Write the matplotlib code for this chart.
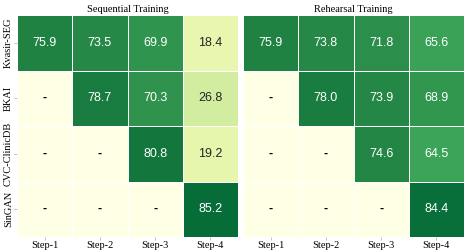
import numpy as np
import matplotlib
matplotlib.use("Agg")
import matplotlib.pyplot as plt
import seaborn as sns

datasets = ["Kvasir-SEG", "BKAI", "CVC-ClinicDB", "SinGAN"]
steps = ["Step-1", "Step-2", "Step-3", "Step-4"]
sequential = [[75.9, 73.5, 69.9, 18.4],
              [0, 78.7, 70.3, 26.8],
              [0, 0, 80.8, 19.2],
              [0, 0, 0, 85.2]]
rehearsal = [[75.9, 73.8, 71.8, 65.6],
             [0, 78.0, 73.9, 68.9],
             [0, 0, 74.6, 64.5],
             [0, 0, 0, 84.4]]
titles = ["Sequential Training", "Rehearsal Training"]

fig = plt.figure(figsize=(4.67, 2.52), dpi=100)
ax1 = fig.add_axes([17/467, 1-237/252, 221/467, 222/252])
ax2 = fig.add_axes([243/467, 1-237/252, 221/467, 222/252])

for ax, data, title in zip([ax1, ax2], [sequential, rehearsal], titles):
    arr = np.array(data, dtype=float)
    annot = np.array([["-" if v == 0 else f"{v:.1f}" for v in row] for row in arr])
    sns.heatmap(arr, ax=ax, cmap="YlGn", vmin=0, vmax=100, annot=annot, fmt="",
                cbar=False, linewidths=0.7, linecolor="white",
                annot_kws={"family": "Liberation Sans", "fontsize": 9})
    for t in ax.texts:
        if t.get_text() == "-":
            t.set_fontweight("bold")
            t.set_color("black")
    ax.set_title(title, family="Liberation Serif", fontsize=7.5, pad=2)
    ax.set_xticklabels(steps, family="Liberation Serif", fontsize=7.5)
    ax.tick_params(axis="both", length=2, width=0.5, color="#aaaaaa", pad=1)

ax1.set_yticklabels(datasets, family="Liberation Serif", fontsize=7.5, rotation=90, va="center")
ax2.set_yticks([])

fig.savefig("out.png", dpi=100)
